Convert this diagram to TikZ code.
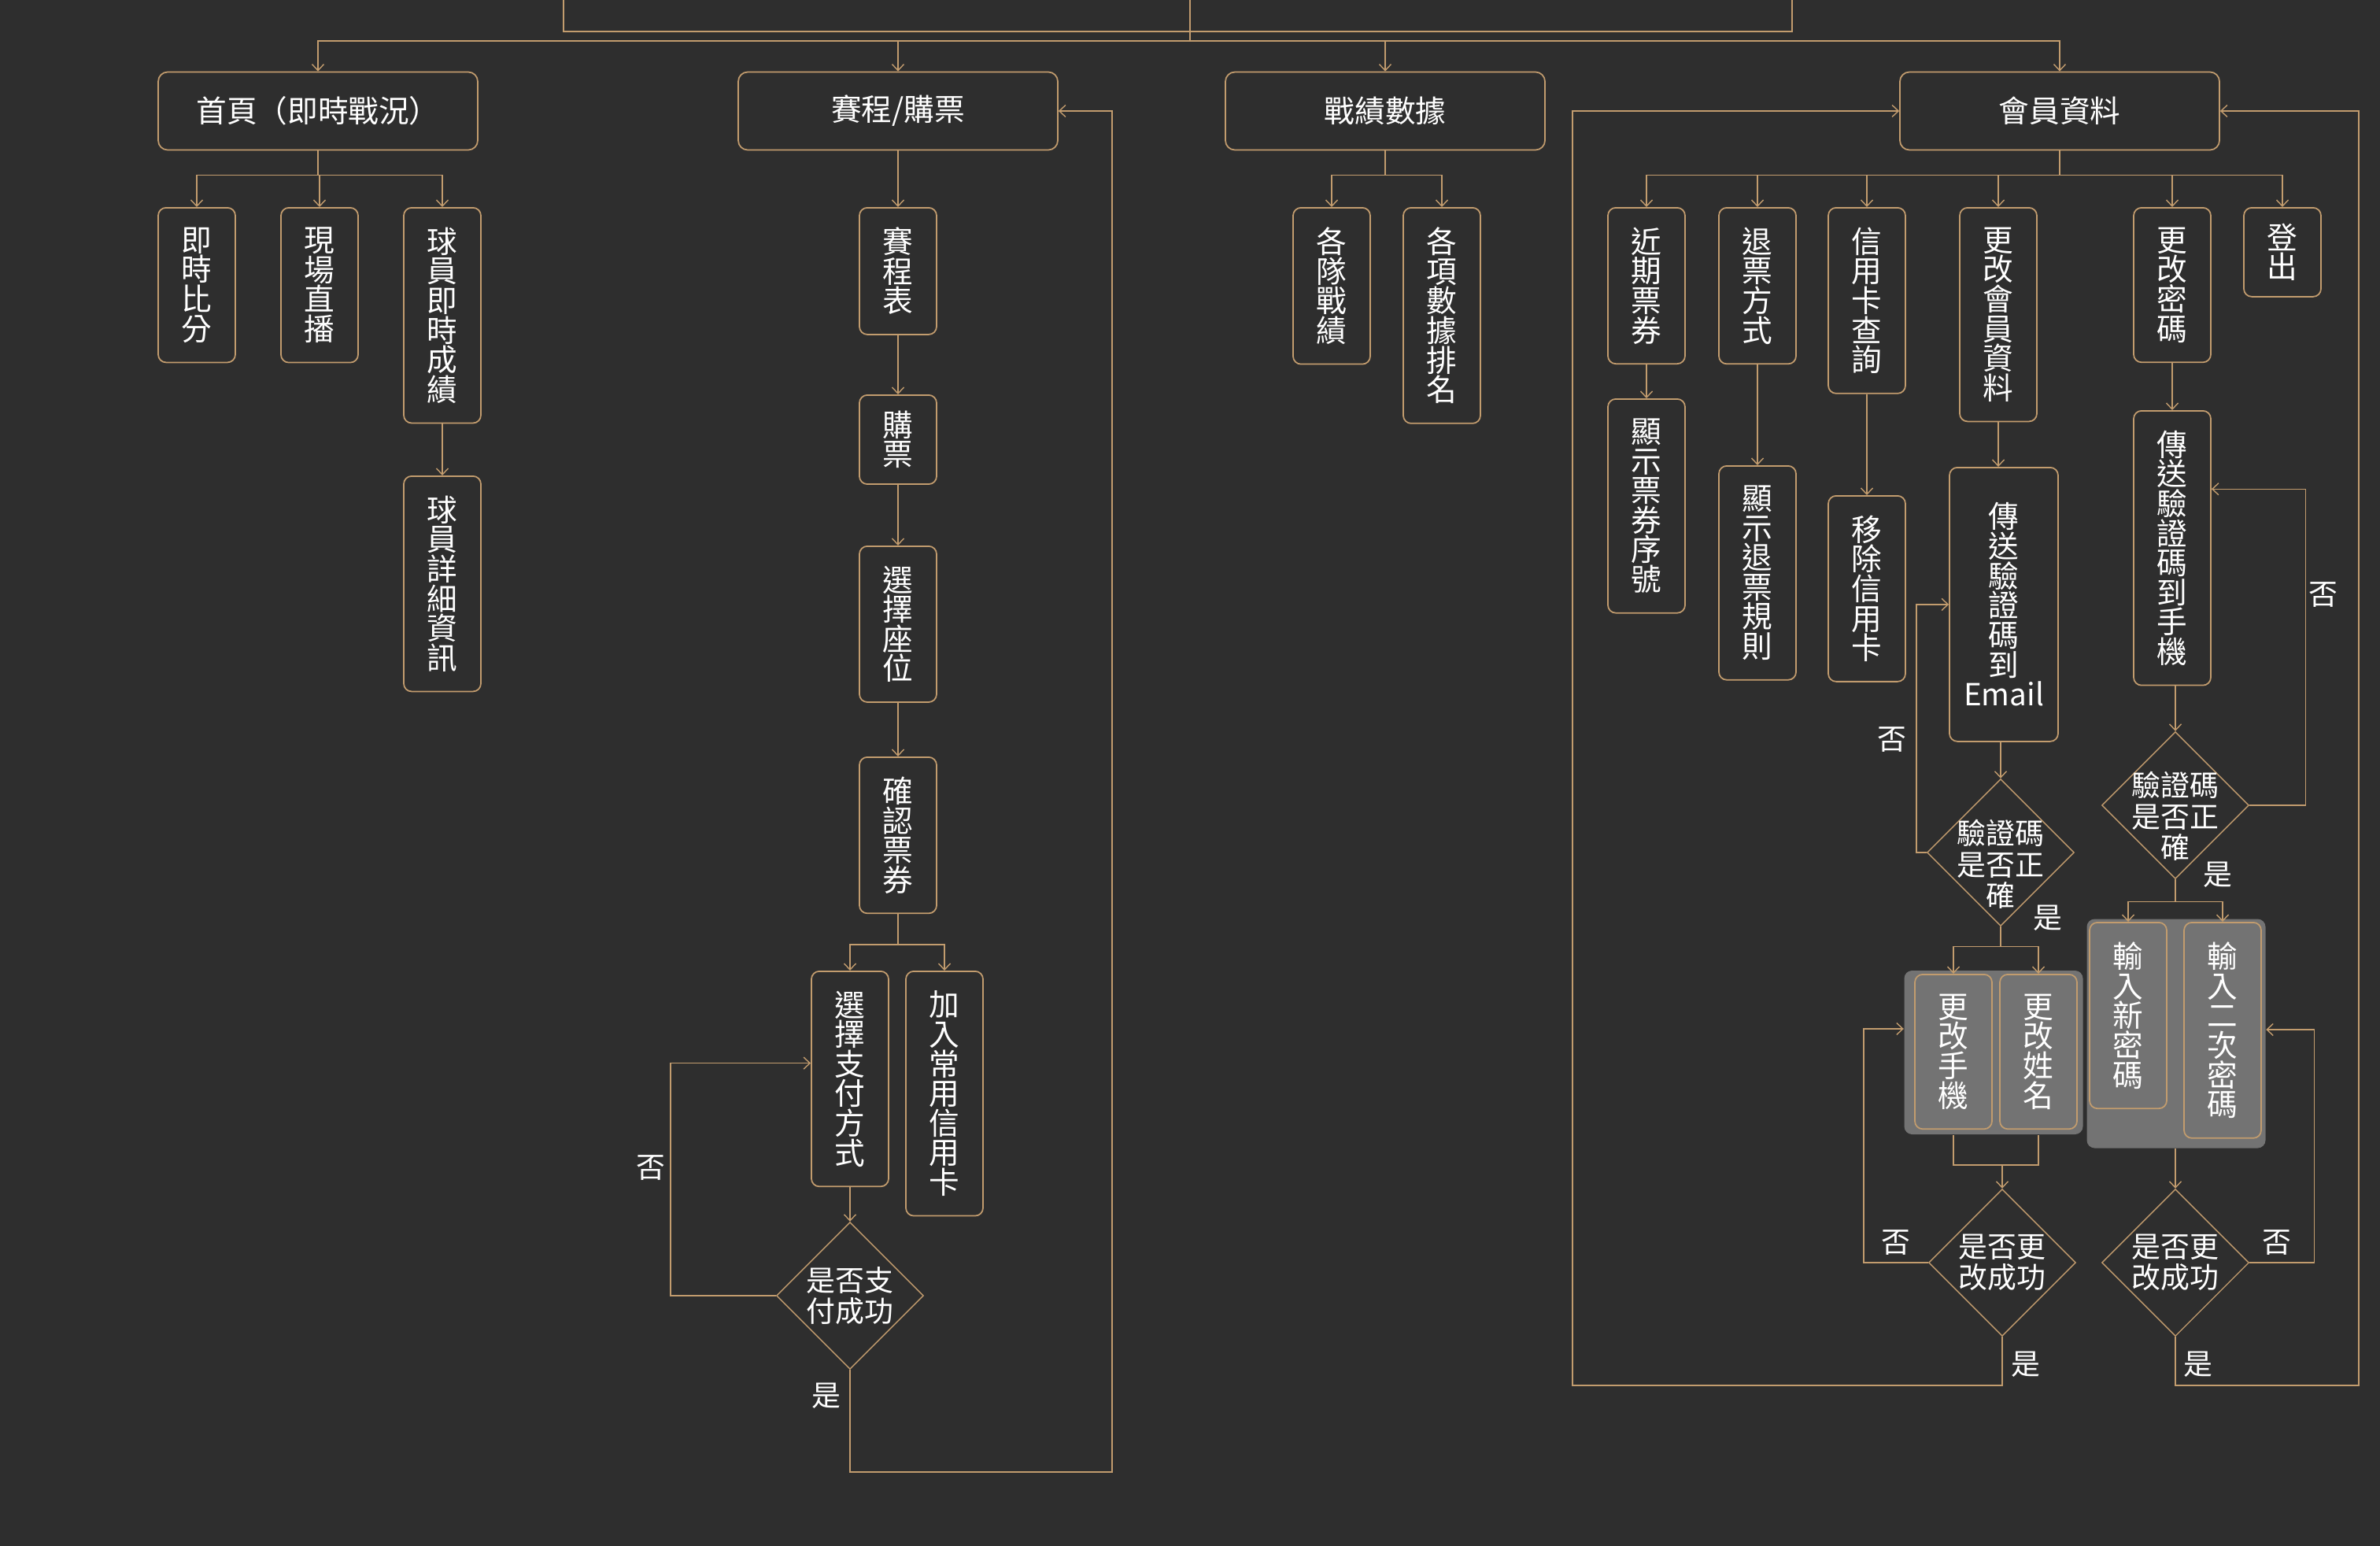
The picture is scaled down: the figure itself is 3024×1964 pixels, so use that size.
\documentclass[tikz,border=0pt]{standalone}
\usepackage{fontspec}
\setmainfont{Noto Sans CJK TC}
\usepackage{xcolor}
\usepackage{tikz}
\usetikzlibrary{arrows.meta,positioning,shapes.geometric}

\definecolor{bgdark}{HTML}{2E2E2E}
\definecolor{linetan}{HTML}{C29C6E}
\definecolor{boxgray}{HTML}{737373}
\newcommand\vlines{\fontsize{11pt}{10.7pt}\selectfont\lineskiplimit=-50pt\relax}

\begin{document}
\begin{tikzpicture}[
  x=0.1mm,y=-0.1mm,
  link/.style={-{Straight Barb[length=0.8mm,width=1.5mm]},linetan,line width=0.4pt},
  plainlink/.style={linetan,line width=0.4pt},
  topbox/.style={draw=linetan,line width=0.5pt,rounded corners=1.2mm,
                 minimum width=4.06cm,minimum height=0.99cm,text=white},
  vbox/.style={draw=linetan,line width=0.5pt,rounded corners=1mm,
               minimum width=0.98cm,inner ysep=2.5mm,align=center,
               anchor=north,text=white,font=\vlines},
  grpbox/.style={fill=boxgray,rounded corners=1mm},
  decision/.style={diamond,draw=linetan,line width=0.4pt,
                   minimum width=1.87cm,minimum height=1.87cm,inner sep=0pt},
  dtext/.style={text=white,align=center,font=\fontsize{10.5pt}{11.2pt}\selectfont},
  yn/.style={text=white,font=\fontsize{10.5pt}{11pt}\selectfont},
  every node/.style={font=\fontsize{11pt}{11.1pt}\selectfont}
]
\fill[bgdark] (0,0) rectangle (3024,1964);
\useasboundingbox (0,0) rectangle (3024,1964);

% Root frame and top bus
\draw[linetan,line width=0.6pt] (716,0) |- (2277,40) -- (2277,0);
\coordinate (root) at (1512,0);
\coordinate (bus) at (1512,52);
\draw[plainlink] (root) -- (bus);

\node[topbox] (home) at (404,141) {首頁（即時戰況）};
\node[topbox] (ticket) at (1141,141) {賽程/購票};
\node[topbox] (stats) at (1760,141) {戰績數據};
\node[topbox] (member) at (2617,141) {會員資料};
\foreach \n in {home,ticket,stats,member}
  \draw[link] (bus) -| (\n);

% Home
\node[vbox] (score) at (250,263) {即\\時\\比\\分};
\node[vbox] (live) at (406,263) {現\\場\\直\\播};
\node[vbox] (player) at (562,263) {球\\員\\即\\時\\成\\績};
\node[vbox] (detail) at (562,604) {球\\員\\詳\\細\\資\\訊};
\foreach \n in {score,live,player}
  \draw[link] (home.south) -- ++(0,31) -| (\n);
\draw[link] (player) -- (detail);

% Schedule / tickets
\node[vbox] (schedule) at (1141,263) {賽\\程\\表};
\node[vbox,inner ysep=2mm] (buy) at (1141,501) {購\\票};
\node[vbox] (seat) at (1141,693) {選\\擇\\座\\位};
\node[vbox] (confirm) at (1141,961) {確\\認\\票\\券};
\node[vbox] (paymethod) at (1080,1233) {選\\擇\\支\\付\\方\\式};
\node[vbox] (addcard) at (1200,1233) {加\\入\\常\\用\\信\\用\\卡};
\node[decision,label={[dtext]center:是否支\\付成功}] (payok) at (1080,1646) {};
\draw[link] (ticket) -- (schedule);
\draw[link] (schedule) -- (buy);
\draw[link] (buy) -- (seat);
\draw[link] (seat) -- (confirm);
\foreach \n in {paymethod,addcard}
  \draw[link] (confirm.south) -- ++(0,39) -| (\n);
\draw[link] (paymethod) -- (payok);
\draw[link] (payok.west) -- ++(-134,0) |- ([yshift=2mm]paymethod.west);
\draw[link] (payok.south) |- (1413,1870) |- (ticket.east);
\node[yn] (payno) at (827,1484) {否};
\node[yn] (payyes) at (1050,1773) {是};

% Stats
\node[vbox] (team) at (1692,263) {各\\隊\\戰\\績};
\node[vbox] (rank) at (1832,263) {各\\項\\數\\據\\排\\名};
\foreach \n in {team,rank}
  \draw[link] (stats.south) -- ++(0,31) -| (\n);

% Member
\node[vbox] (recent) at (2092,263) {近\\期\\票\\券};
\node[vbox] (refund) at (2233,263) {退\\票\\方\\式};
\node[vbox] (card) at (2372,263) {信\\用\\卡\\查\\詢};
\node[vbox] (editinfo) at (2539,263) {更\\改\\會\\員\\資\\料};
\node[vbox] (editpw) at (2760,263) {更\\改\\密\\碼};
\node[vbox,inner ysep=2mm] (logout) at (2900,263) {登\\出};
\foreach \n in {recent,refund,card,editinfo,editpw,logout}
  \draw[link] (member.south) -- ++(0,31) -| (\n);

\node[vbox] (serial) at (2092,506) {顯\\示\\票\\券\\序\\號};
\node[vbox] (rule) at (2233,591) {顯\\示\\退\\票\\規\\則};
\node[vbox] (remove) at (2372,629) {移\\除\\信\\用\\卡};
\node[vbox,minimum width=1.38cm,minimum height=3.48cm] (mail) at (2546,593)
  {傳\\送\\驗\\證\\碼\\到\\Email};
\node[vbox] (sms) at (2760,521) {傳\\送\\驗\\證\\碼\\到\\手\\機};
\draw[link] (recent) -- (serial);
\draw[link] (refund) -- (rule);
\draw[link] (card) -- (remove);
\draw[link] (editinfo) -- (editinfo |- mail.north);
\draw[link] (editpw) -- (sms);

\node[decision,label={[dtext,yshift=-1.5mm]center:驗證碼\\是否正\\確}] (mailok) at (2542,1083) {};
\node[decision,label={[dtext,yshift=-1.4mm]center:驗證碼\\是否正\\確}] (smsok) at (2764,1023) {};
\draw[link] (mailok |- mail.south) -- (mailok);
\draw[link] (smsok |- sms.south) -- (smsok);
\draw[link] (mailok.west) -- ++(-13,0) |- (mail.west);
\draw[link] (smsok.east) -- ++(71,0) |- ([yshift=7.5mm]sms.east);
\node[yn] (mailno) at (2404,940) {否};
\node[yn] (mailyes) at (2602,1166) {是};
\node[yn] (smsno) at (2952,756) {否};
\node[yn] (smsyes) at (2818,1111) {是};

% Edit groups
\node[grpbox,minimum width=2.27cm,minimum height=2.08cm] (grpinfo) at (2533,1337) {};
\node[grpbox,minimum width=2.27cm,minimum height=2.91cm] (grppw) at (2765,1313) {};
\node[vbox,fill=boxgray] (phone) at (2482,1237) {更\\改\\手\\機};
\node[vbox,fill=boxgray] (name) at (2590,1237) {更\\改\\姓\\名};
\node[vbox,fill=boxgray] (newpw) at (2704,1171) {輸\\入\\新\\密\\碼};
\node[vbox,fill=boxgray] (againpw) at (2824,1171) {輸\\入\\二\\次\\密\\碼};
\foreach \n in {phone,name}
  \draw[link] (mailok.south) -- ++(0,25) -| (\n);
\foreach \n in {newpw,againpw}
  \draw[link] (smsok.south) -- ++(0,28) -| (\n);

\node[decision,label={[dtext]center:是否更\\改成功}] (infook) at (2544,1604) {};
\node[decision,label={[dtext]center:是否更\\改成功}] (pwok) at (2764,1604) {};
\coordinate (infojoin) at (2544,1480);
\draw[plainlink] (phone |- grpinfo.south) |- (infojoin) -| (name |- grpinfo.south);
\draw[link] (infojoin) -- (infook);
\draw[link] (pwok |- grppw.south) -- (pwok);
\draw[link] (infook.west) -- ++(-82,0) |- ([yshift=3mm]grpinfo.west);
\draw[link] (pwok.east) -- ++(82,0) |- ([yshift=0.5mm]grppw.east);
\node[yn] (infono) at (2409,1579) {否};
\node[yn] (infoyes) at (2574,1733) {是};
\node[yn] (pwno) at (2893,1579) {否};
\node[yn] (pwyes) at (2793,1733) {是};

% Back to member page
\draw[link] (infook.south) |- (1998,1760) |- (member.west);
\draw[link] (pwok.south) |- (2997,1760) |- (member.east);
\end{tikzpicture}
\end{document}
